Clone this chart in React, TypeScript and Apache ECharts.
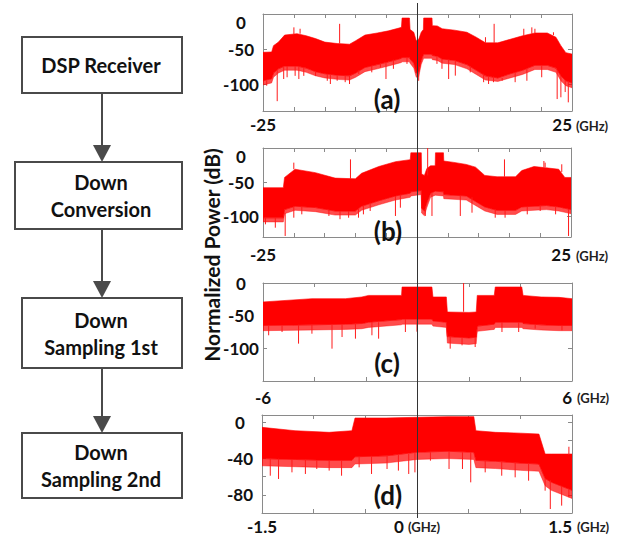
import React, { useEffect, useRef } from 'react';
import * as echarts from 'echarts';

// ---------- Panel (a): Rx spectrum, -25..25 GHz ----------
const aFreq = [-25, -23.6, -23.3, -22.5, -21.5, -19.5, -18, -16.5, -15, -13, -11, -10, -8.5, -6.5, -4.7, -3, -2.6, -2.5, -1.3, -1.2, -0.6, -0.2, 0.2, 0.6, 0.95, 1.0, 2.35, 2.4, 3.2, 4, 6, 8, 9.5, 11, 13, 15, 17, 19, 21, 22.4, 23.2, 24, 25];
const aUpper = [-54.5, -54, -45, -40, -30, -28, -31, -35, -40, -42, -43, -38, -30, -27, -24, -20, -19, -5.7, -5.7, -22, -26, -38, -36, -26, -22, -5.7, -5.7, -16.6, -17, -21, -23, -26, -33, -41, -41, -36, -31, -27, -27, -33, -45, -55, -57];
const aCore = [-95, -92, -84, -78, -74, -74, -77, -82, -85, -87, -88, -84, -76, -72, -68, -64, -63, -62, -62, -64, -70, -84, -83, -66, -58, -57, -57, -59, -60, -64, -66, -72, -80, -88, -91, -85, -80, -73, -73, -77, -88, -95, -98];
const aFringe = [-101, -98, -90, -84, -80, -80, -83, -88, -91, -93, -94, -90, -82, -78, -74, -70, -69, -68, -68, -70, -77, -90, -89, -72, -64, -63, -63, -65, -66, -70, -72, -78, -86, -94, -96, -91, -86, -79, -79, -83, -95, -102, -105];
const aSpikes = [
  [-24.4, -95, -102], [-22.7, -80, -124], [-21.65, -74, -92.5], [-21.1, -74, -90], [-19.8, -74, -88], [-19.2, -75, -92.5],
  [-18.4, -76, -88], [-16.5, -82, -88], [-14.6, -85, -95], [-14.1, -86, -99.6], [-13.0, -87, -95], [-11.7, -88, -97],
  [-11.0, -88, -99.6], [-9.5, -80, -85.4], [-7.4, -74, -83], [-6.0, -71, -76], [-5.1, -69, -92.5], [-3.9, -65, -78],
  [-1.7, -62, -71], [0.19, -83, -95], [3.15, -60, -71], [3.96, -64, -78], [5.04, -65, -92.5], [6.12, -66, -87.7],
  [8.54, -74, -83], [10.7, -85, -97], [11.5, -88, -99.6], [12.3, -89, -97], [13.7, -91, -95], [15.8, -83, -97],
  [17.7, -78, -95], [20.1, -73, -90], [22.6, -80, -121], [23.2, -88, -118.5], [23.9, -94, -111], [24.4, -96, -125.7],
  [-20.0, -29, -19], [-19.0, -28, -21], [-12.6, -42, -14], [11.0, -41, -33], [12.4, -41, -14], [17.2, -31, -21],
  [18.5, -28, -19], [19.0, -27, -21], [22.0, -30, -26],
];

// ---------- Panel (b): after down conversion ----------
const bFreq = [-25, -21.7, -21.5, -19.8, -16.5, -13.3, -10, -9, -6.2, -3.5, -1.1, -1.0, 0.7, 0.75, 1.2, 1.6, 2.2, 2.95, 3.0, 4.3, 4.35, 6, 8, 9.5, 11, 13, 16, 17, 19, 21, 23, 24, 25];
const bUpper = [-58, -58, -43, -31, -36, -44, -45, -37, -27, -20, -17, -7, -7, -38, -40, -30, -26, -26, -7, -7, -19, -21, -24, -28, -40, -42, -42, -33, -27, -29, -31, -43, -43];
const bCore = [-102, -102, -90, -85, -87, -92, -92, -85, -77, -70, -66, -64, -62, -88, -92, -80, -66, -63, -63, -64, -68, -69, -70, -78, -86, -91, -91, -86, -85, -84, -86, -88, -90];
const bFringe = [-108, -108, -96, -91, -93, -98, -98, -91, -83, -76, -72, -70, -68, -95, -99, -87, -72, -69, -69, -70, -74, -75, -76, -84, -92, -97, -97, -92, -91, -90, -92, -94, -96];
const bSpikes = [
  [-24.6, -102, -111.5], [-23, -102, -116.4], [-21.4, -95, -128.5], [-20, -86, -101.8], [-18.7, -86, -96.9],
  [-14.3, -90, -99.3], [-12.5, -92, -104], [-11.1, -92, -101.8], [-9.5, -88, -101.8], [-8.7, -84, -96.9],
  [-7.6, -80, -92], [-3.5, -70, -99.3], [-2.7, -68, -87.2], [1.35, -90, -99.3], [2.43, -66, -99.3],
  [7.03, -70, -99.3], [8.93, -72, -94.5], [12.7, -90, -101.8], [14.3, -91, -101.8], [17.9, -86, -96.9],
  [20.0, -84, -92], [22.5, -85, -96.9], [24.6, -89, -128.5],
  [-20, -31, -21.4], [-10.8, -45, -16.6], [1.73, -40, 0], [14.2, -42, -16.6], [20.6, -28, -19], [20.8, -28, -21.4], [23.5, -35, -23.8],
];

// ---------- Panel (c): after 1st down sampling ----------
const cFreq = [-6, -4.1, -2.8, -2.16, -1.9, -0.62, -0.6, 0, 0.56, 0.6, 1.12, 1.16, 2.0, 2.28, 2.32, 2.98, 3.02, 4.05, 4.1, 4.8, 5.5, 6];
const cUpper = [-29, -24, -24, -21.4, -19, -19, -6.1, -6.1, -6.1, -21.4, -21.4, -44.4, -45, -44.4, -19, -19, -6.1, -6.1, -19, -21.4, -22, -24];
const cCore = [-65, -64, -63, -62, -60, -56, -55, -55, -55, -58, -60, -82, -84, -83, -66, -63, -60, -60, -62, -64, -65, -65];
const cFringe = [-73, -72, -71, -70, -68, -64, -63, -63, -63, -66, -68, -92, -94, -93, -74, -71, -68, -68, -70, -72, -73, -73];
const cSpikes = [
  [-5.78, -65, -80], [-5.26, -65, -75], [-4.62, -64, -92.8], [-4.1, -64, -77.6], [-3.32, -63, -100.5],
  [-2.93, -63, -82.7], [-2.41, -62, -85.2], [-1.77, -60, -80], [-1.51, -60, -85.2], [-0.47, -55, -75],
  [-0.02, -55, -74.5], [1.27, -82, -100.5], [1.73, -83, -95.4], [2.24, -83, -98], [3.28, -60, -75],
  [3.93, -60, -75], [4.57, -64, -69.9], [5.61, -65, -72.4], [1.79, -44, 0],
];

// ---------- Panel (d): after 2nd down sampling ----------
const dFreq = [-1.5, -1.18, -0.85, -0.63, -0.6, -0.3, 0, 0.3, 0.55, 0.57, 0.76, 1.0, 1.18, 1.24, 1.3, 1.5];
const dUpper = [-5.6, -9.3, -11.1, -9.3, 4.7, 4.7, 5.5, 6.2, 6.2, -9.3, -11.1, -12, -13, -35, -35, -35];
const dCore = [-40, -41, -42, -42, -38, -37, -33, -32, -33, -42, -43, -45, -46, -62, -66, -75];
const dFringe = [-48, -49, -50, -50, -46, -45, -41, -40, -41, -50, -51, -53, -54, -70, -75, -84];
const dSpikes = [
  [-1.42, -40, -58.9], [-1.34, -40, -62.5], [-1.21, -41, -55.2], [-1.08, -41, -57], [-0.97, -42, -51.5],
  [-0.85, -42, -53.3], [-0.73, -42, -58.9], [-0.56, -38, -49.7], [-0.44, -37, -57], [-0.29, -37, -51.5],
  [-0.18, -36, -53.3], [-0.08, -35, -57], [-0.02, -33, -55.2], [0.13, -33, -42.3], [0.31, -32, -51.5],
  [0.44, -33, -51.5], [0.52, -33, -66.2], [0.66, -42, -55.2], [0.82, -43, -58.9], [0.95, -44, -60.7],
  [1.08, -45, -64.4], [1.24, -62, -75.4], [1.29, -64, -95.6], [1.40, -70, -91.9], [1.47, -74, -82.7],
  [1.47, -36, -27],
];

// ---------- axes / labels ----------
const xRanges = [[-25, 25, 5], [-25, 25, 5], [-6, 6, 2], [-1.5, 1.5, 0.5]];
const xLabelValues = [[-25, 25], [-25, 25], [-6, 6], [-1.5, 0, 1.5]];
const yRanges = [[-138, 0], [-130, 0], [-150, 0], [-100, 8]];
const yLabelValues = [[-100, -50, 0], [-100, -50, 0], [-100, -50, 0], [-80, -40, 0]];
const yTickValues = [[-100, -50, 0], [-100, -50, 0], [-100, -50, 0], [-80, -60, -40, -20, 0]];
const panelNames = ['(a)', '(b)', '(c)', '(d)'];
const unitText = '(GHz)';
const yTitle = 'Normalized Power (dB)';
const steps = ['DSP Receiver', 'Down\nConversion', 'Down\nSampling 1st', 'Down\nSampling 2nd'];

const panels = [
  { freq: aFreq, up: aUpper, core: aCore, fringe: aFringe, spikes: aSpikes },
  { freq: bFreq, up: bUpper, core: bCore, fringe: bFringe, spikes: bSpikes },
  { freq: cFreq, up: cUpper, core: cCore, fringe: cFringe, spikes: cSpikes },
  { freq: dFreq, up: dUpper, core: dCore, fringe: dFringe, spikes: dSpikes },
];

// layout (pixels)
const grids = [
  { left: 263, top: 14, width: 309, height: 97 },
  { left: 263, top: 148, width: 308, height: 89 },
  { left: 263, top: 283, width: 309, height: 98 },
  { left: 262, top: 415, width: 310, height: 98 },
];
const xLabelMargins = [5, 9, 8, 5];
const yMaxAlign = ['top', 'top', 'middle', 'middle'];
const unitPos = [[576, 126], [576, 256], [577, 398], [577, 527]];
const panelLabelPos = [[387, 99], [388, 231], [387, 363], [388, 495]];
const boxes = [
  { x: 22, y: 37, w: 160, h: 56 },
  { x: 15, y: 162, w: 167, h: 67 },
  { x: 22, y: 298, w: 160, h: 70 },
  { x: 22, y: 433, w: 160, h: 65 },
];

const FONT = 'Lato, "Open Sans", sans-serif';
const AXIS_GRAY = '#8a8a8a';

function bandSeries(idx: number, freq: number[], hi: number[], lo: number[], fill: string, z: number) {
  return {
    type: 'custom',
    xAxisIndex: idx,
    yAxisIndex: idx,
    data: freq.map((f, i) => [f, hi[i], lo[i]]),
    encode: { x: 0, y: [1, 2] },
    clip: true,
    silent: true,
    z,
    renderItem: (params: any, api: any) => {
      if (params.dataIndex !== 0) return null;
      const pts: number[][] = [];
      for (let i = 0; i < freq.length; i++) pts.push(api.coord([freq[i], hi[i]]));
      for (let i = freq.length - 1; i >= 0; i--) pts.push(api.coord([freq[i], lo[i]]));
      return { type: 'polygon', shape: { points: pts }, style: { fill, stroke: fill, lineWidth: 0.6 } };
    },
  };
}

function spikeSeries(idx: number, list: number[][]) {
  return {
    type: 'custom',
    xAxisIndex: idx,
    yAxisIndex: idx,
    data: list,
    encode: { x: 0, y: [1, 2] },
    clip: true,
    silent: true,
    z: 4,
    renderItem: (params: any, api: any) => {
      const a = api.coord([api.value(0), api.value(1)]);
      const b = api.coord([api.value(0), api.value(2)]);
      return { type: 'line', shape: { x1: a[0], y1: a[1], x2: b[0], y2: b[1] }, style: { stroke: '#ff1a1a', lineWidth: 1 } };
    },
  };
}

function buildOption() {
  const xAxis: any[] = [];
  const yAxis: any[] = [];
  const tick = { show: true, inside: true, length: 4, lineStyle: { color: AXIS_GRAY } };
  const line = { show: true, onZero: false, lineStyle: { color: AXIS_GRAY, width: 1 } };
  for (let i = 0; i < 4; i++) {
    const [mn, mx, iv] = xRanges[i];
    const labs = xLabelValues[i];
    xAxis.push({
      type: 'value', gridIndex: i, min: mn, max: mx, interval: iv, position: 'bottom',
      axisLine: line, axisTick: tick, splitLine: { show: false },
      axisLabel: {
        show: true, margin: xLabelMargins[i], color: '#111', fontFamily: FONT, fontWeight: 'bold', fontSize: 17,
        alignMaxLabel: 'right', showMinLabel: true, showMaxLabel: true, hideOverlap: false, interval: 0,
        formatter: (v: number) => {
          if (!labs.some((l) => Math.abs(l - v) < 1e-9)) return '';
          if (i === 3 && Math.abs(v) < 1e-9) return '0 {u|' + unitText + '}';
          return String(v);
        },
        rich: { u: { fontSize: 13, fontWeight: 'bold', fontFamily: FONT, color: '#222' } },
      },
    });
  }
  for (let i = 0; i < 4; i++) {
    const [mn, mx, iv] = xRanges[i];
    xAxis.push({
      type: 'value', gridIndex: i, min: mn, max: mx, interval: iv, position: 'top',
      axisLine: line, axisTick: tick, splitLine: { show: false }, axisLabel: { show: false },
    });
  }
  for (let i = 0; i < 4; i++) {
    const [mn, mx] = yRanges[i];
    yAxis.push({
      type: 'value', gridIndex: i, min: mn, max: mx, position: 'left',
      axisLine: line, splitLine: { show: false },
      axisTick: { ...tick, customValues: yTickValues[i] },
      axisLabel: {
        show: true, customValues: yLabelValues[i], margin: 22, align: 'center',
        verticalAlignMaxLabel: yMaxAlign[i],
        color: '#111', fontFamily: FONT, fontWeight: 'bold', fontSize: 17,
      },
    });
  }
  for (let i = 0; i < 4; i++) {
    const [mn, mx] = yRanges[i];
    yAxis.push({
      type: 'value', gridIndex: i, min: mn, max: mx, position: 'right',
      axisLine: line, splitLine: { show: false },
      axisTick: { ...tick, customValues: yTickValues[i] },
      axisLabel: { show: false },
    });
  }

  const series: any[] = [];
  panels.forEach((p, i) => {
    series.push(bandSeries(i, p.freq, p.core, p.fringe, 'rgba(255,0,0,0.7)', 2));
    series.push(bandSeries(i, p.freq, p.up, p.core, '#ff0000', 3));
    series.push(spikeSeries(i, p.spikes));
  });

  const graphic: any[] = [];
  boxes.forEach((b, i) => {
    graphic.push({
      type: 'rect', shape: { x: b.x, y: b.y, width: b.w, height: b.h },
      style: { fill: '#fff', stroke: '#4a4a4a', lineWidth: 2 },
    });
    graphic.push({
      type: 'text', x: 101, y: b.y + b.h / 2,
      style: {
        text: steps[i], fill: '#111', font: `bold 20px ${FONT}`, align: 'center', verticalAlign: 'middle', lineHeight: 27,
      },
    });
    if (i < boxes.length - 1) {
      const y1 = b.y + b.h;
      const y2 = boxes[i + 1].y;
      graphic.push({ type: 'line', shape: { x1: 102, y1, x2: 102, y2: y2 - 10 }, style: { stroke: '#4a4a4a', lineWidth: 2 } });
      graphic.push({
        type: 'polygon', shape: { points: [[93, y2 - 17], [111, y2 - 17], [102, y2]] },
        style: { fill: '#4a4a4a' },
      });
    }
  });
  graphic.push({ type: 'line', z: 50, shape: { x1: 417.5, y1: 3, x2: 417.5, y2: 518 }, style: { stroke: '#333', lineWidth: 1 } });
  graphic.push({
    type: 'text', x: 211, y: 255, rotation: Math.PI / 2,
    style: { text: yTitle, fill: '#111', font: `bold 21px ${FONT}`, align: 'center', verticalAlign: 'middle' },
  });
  panelNames.forEach((t, i) => {
    graphic.push({
      type: 'text', x: panelLabelPos[i][0], y: panelLabelPos[i][1], z: 60,
      style: { text: t, fill: '#111', font: `bold 26px ${FONT}`, align: 'center', verticalAlign: 'middle' },
    });
    graphic.push({
      type: 'text', x: unitPos[i][0], y: unitPos[i][1],
      style: { text: unitText, fill: '#222', font: `bold 13px ${FONT}`, align: 'left', verticalAlign: 'middle' },
    });
  });

  return {
    animation: false,
    backgroundColor: '#fff',
    grid: grids.map((g) => ({ ...g, containLabel: false })),
    xAxis,
    yAxis,
    series,
    graphic,
  };
}

export default function App() {
  const ref = useRef<HTMLDivElement>(null);
  useEffect(() => {
    if (!ref.current) return;
    const chart = echarts.init(ref.current, undefined, { renderer: 'svg' });
    chart.setOption(buildOption() as any);
    return () => chart.dispose();
  }, []);
  return (
    <div
      ref={ref}
      style={{ position: 'fixed', left: 0, top: 0, width: 628, height: 539, background: '#fff' }}
    />
  );
}
